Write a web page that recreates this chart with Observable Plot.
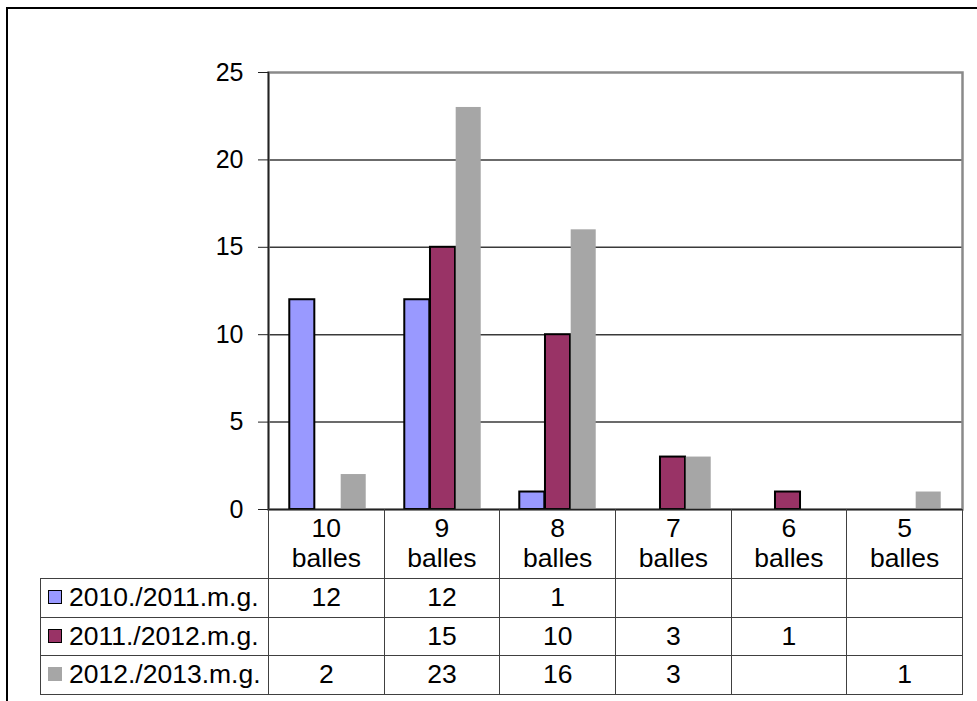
<!DOCTYPE html>
<html><head><meta charset="utf-8">
<script src="https://cdn.jsdelivr.net/npm/d3@7"></script>
<script src="https://cdn.jsdelivr.net/npm/@observablehq/plot@0.6"></script>
<style>
html,body{margin:0;padding:0;background:#fff;overflow:hidden;}
#wrap{position:relative;width:977px;height:701px;overflow:hidden;font-family:Arial,"Liberation Sans",sans-serif;color:#000;}
#frame{position:absolute;left:6px;top:7px;width:1000px;height:800px;border:2px solid #000;box-sizing:border-box;}
#chart{position:absolute;left:0;top:0;}
#tbl{position:absolute;left:40px;top:509px;border-collapse:collapse;table-layout:fixed;font-size:26.5px;width:922px;}
#tbl td{border:1px solid #404040;text-align:center;padding:0;white-space:nowrap;overflow:hidden;}
#tbl td.hdr{line-height:30px;white-space:normal;}
#tbl td.blank{border-top:none;border-left:none;border-bottom:1px solid #404040;}
#tbl td.leg{text-align:left;padding-left:7px;}
.key{display:inline-block;width:12px;height:12px;border:1.5px solid #000;margin-right:7px;vertical-align:middle;position:relative;top:-2px;}
</style></head>
<body><div id="wrap"><div id="frame"></div><div id="chart"></div><table id="tbl"></table></div>
<script>
const categories = ["10", "9", "8", "7", "6", "5"];
const unitLabel = "balles";
const seriesNames = ["2010./2011.m.g.", "2011./2012.m.g.", "2012./2013.m.g."];
const s2010 = [12, 12, 1, null, null, null];
const s2011 = [null, 15, 10, 3, 1, null];
const s2012 = [2, 23, 16, 3, null, 1];
const seriesValues = [s2010, s2011, s2012];
const colors = ["#9999FF", "#993366", "#A6A6A6"];
const yTicks = [0, 5, 10, 15, 20, 25];

const W = 977, ML = 268, MR = 15;
const B = (W - ML - MR) / categories.length;
const bw = B / 4.5;

const marks = [
  Plot.ruleY(yTicks.slice(1, -1), {stroke: "#3a3a3a", strokeWidth: 1.5}),
  Plot.frame({stroke: "#8a8a8a", strokeWidth: 2.5})
];
seriesNames.forEach((s, i) => {
  const data = categories.map((c, j) => ({cat: c, series: s, v: seriesValues[i][j]})).filter(d => d.v != null);
  const left = B / 2 - 1.5 * bw + i * bw;
  marks.push(Plot.barY(data, {
    x: "cat", y: "v", fill: "series",
    stroke: i < 2 ? "#000" : "none", strokeWidth: 2,
    insetLeft: left, insetRight: B - left - bw
  }));
});
marks.push(Plot.ruleY([0], {stroke: "#222", strokeWidth: 1.5}));
marks.push(Plot.frame({anchor: "left", stroke: "#222", strokeWidth: 1.5}));
marks.push(Plot.axisY({ticks: yTicks, tickSize: 10, tickPadding: 15, fontSize: 25, stroke: "#222", label: null}));

const chart = Plot.plot({
  width: W, height: 512,
  marginLeft: ML, marginRight: MR, marginTop: 72, marginBottom: 3,
  style: {fontFamily: 'Arial, "Liberation Sans", sans-serif', fontSize: "25px", color: "#000", background: "transparent", overflow: "visible"},
  x: {domain: categories, padding: 0, axis: null},
  y: {domain: [0, 25], axis: null},
  color: {domain: seriesNames, range: colors},
  marks
});
document.getElementById("chart").appendChild(chart);

// data table below the chart
const tbl = document.getElementById("tbl");
const cg = document.createElement("colgroup");
const c0 = document.createElement("col"); c0.style.width = (ML - 40) + "px"; cg.appendChild(c0);
categories.forEach(() => { const c = document.createElement("col"); c.style.width = B + "px"; cg.appendChild(c); });
tbl.appendChild(cg);
const hr = document.createElement("tr"); hr.style.height = "69px";
const h0 = document.createElement("td"); h0.className = "blank"; hr.appendChild(h0);
categories.forEach(c => {
  const td = document.createElement("td"); td.className = "hdr";
  td.innerHTML = c + "<br>" + unitLabel;
  td.style.borderTop = "none";
  hr.appendChild(td);
});
tbl.appendChild(hr);
const rowH = [39, 38.5, 38.5];
seriesNames.forEach((s, i) => {
  const tr = document.createElement("tr"); tr.style.height = rowH[i] + "px";
  const td0 = document.createElement("td"); td0.className = "leg";
  const key = document.createElement("span"); key.className = "key";
  key.style.background = colors[i];
  if (i === 2) { key.style.border = "none"; key.style.width = "14px"; key.style.height = "14px"; }
  td0.appendChild(key);
  td0.appendChild(document.createTextNode(s));
  tr.appendChild(td0);
  seriesValues[i].forEach(v => {
    const td = document.createElement("td");
    td.textContent = v == null ? "" : v;
    tr.appendChild(td);
  });
  tbl.appendChild(tr);
});
</script></body></html>
